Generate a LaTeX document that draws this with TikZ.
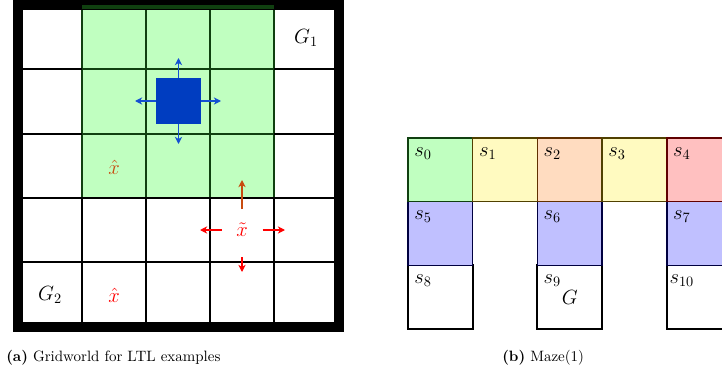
\documentclass[tikz,border=0pt]{standalone}
\usetikzlibrary{arrows.meta}
\definecolor{lgreen}{RGB}{192,255,192}
\definecolor{dgreen}{RGB}{16,64,16}
\definecolor{agentblue}{RGB}{0,61,192}
\definecolor{arrblue}{RGB}{20,80,210}
\definecolor{brownred}{RGB}{200,75,15}
\definecolor{lyellow}{RGB}{255,250,192}
\definecolor{dyellow}{RGB}{80,64,0}
\definecolor{lorange}{RGB}{255,220,192}
\definecolor{dorange}{RGB}{96,48,0}
\definecolor{lred}{RGB}{255,192,192}
\definecolor{dred}{RGB}{96,0,0}
\definecolor{lblue}{RGB}{192,192,255}
\definecolor{dblue}{RGB}{0,0,64}
\begin{document}
\begin{tikzpicture}[x=0.7pt,y=-0.7pt,
  gridline/.style={line width=1.4pt},
  mv/.style={line width=0.9pt,-{Stealth[length=5pt,width=5pt,inset=1.5pt]}},
  cell/.style={minimum width=45.29pt,minimum height=44.59pt,inner sep=0pt,outer sep=0pt,font=\Large},
  wcell/.style={cell,fill=white,draw=black,line width=1.4pt},
  ccell/.style={cell,line width=1pt},
  slabel/.style={anchor=base,inner sep=0pt,font=\Large},
  caplabel/.style={anchor=base west,inner sep=0pt,font=\fontsize{10.5}{12}\selectfont}]
\path[use as bounding box,fill=white] (0,0) rectangle (722,370);
\begin{scope}
\clip (0,0) rectangle (722,370);
% ---------- (a) gridworld ----------
\fill[white] (18,5) rectangle (338,327);
\fill[lgreen] (82,5) rectangle (274,198);
\foreach \x in {82,146,210,274} \draw[gridline] (\x,198) -- (\x,327);
\foreach \x in {82,146,210,274} \draw[gridline,dgreen] (\x,5) -- (\x,198);
\foreach \y in {69,134} {
  \draw[gridline] (18,\y) -- (82,\y);
  \draw[gridline,dgreen] (82,\y) -- (274,\y);
  \draw[gridline] (274,\y) -- (338,\y);
}
\foreach \y in {198,262} \draw[gridline] (18,\y) -- (338,\y);
\draw[line width=7pt] (17.5,5) rectangle (338.5,327);
\draw[dgreen,line width=2.8pt] (82,7) -- (274,7);

\node[fill=agentblue,minimum size=31.5pt,inner sep=0pt,outer sep=0pt] (agent) at (178.5,101) {};
\coordinate (aup) at (178.5,58);
\coordinate (adown) at (178.5,144);
\coordinate (aleft) at (135,101);
\coordinate (aright) at (221,101);
\draw[mv,arrblue] (agent.north) -- (aup);
\draw[mv,arrblue] (agent.south) -- (adown);
\draw[mv,arrblue] (agent.west) -- (aleft);
\draw[mv,arrblue] (agent.east) -- (aright);

\node[red,font=\Large,minimum width=28.7pt,minimum height=33.6pt,inner sep=0pt,outer sep=0pt] (xt) at (242,230) {$\tilde{x}$};
\coordinate (xup) at (242,180);
\coordinate (xdown) at (242,272);
\coordinate (xleft) at (200,230);
\coordinate (xright) at (285,230);
\draw[mv,brownred,shorten <=-2.1pt] (xt.north) -- (xup);
\draw[mv,red,shorten <=2.1pt] (xt.south) -- (xdown);
\draw[mv,red] (xt.west) -- (xleft);
\draw[mv,red] (xt.east) -- (xright);

\node[brownred,font=\Large] (xh1) at (114,167) {$\hat{x}$};
\node[red,font=\Large] (xh2) at (114,295) {$\hat{x}$};
\node[font=\Large] (g1) at (306,38) {$G_1$};
\node[font=\Large] (g2) at (50,295) {$G_2$};

% ---------- (b) maze ----------
\node[wcell] (s8) at (440.35,297.25) {};
\node[wcell] (s9) at (569.75,297.25) {$G$};
\node[wcell] (s10) at (699.15,297.25) {};
\node[ccell,fill=lblue,draw=dblue] (s5) at (440.35,233.55) {};
\node[ccell,fill=lblue,draw=dblue] (s6) at (569.75,233.55) {};
\node[ccell,fill=lblue,draw=dblue] (s7) at (699.15,233.55) {};
\node[ccell,fill=lgreen,draw=dgreen] (s0) at (440.35,169.85) {};
\node[ccell,fill=lyellow,draw=dyellow] (s1) at (505.05,169.85) {};
\node[ccell,fill=lorange,draw=dorange] (s2) at (569.75,169.85) {};
\node[ccell,fill=lyellow,draw=dyellow] (s3) at (634.45,169.85) {};
\node[ccell,fill=lred,draw=dred] (s4) at (699.15,169.85) {};
\foreach \n/\t in {s0/0,s1/1,s2/2,s3/3,s4/4,s5/5,s6/6,s7/7,s8/8,s9/9,s10/10}
  \node[slabel] (l\n) at ([xshift=10.5pt,yshift=-12.6pt]\n.north west) {$s_{\t}$};
\end{scope}
% ---------- captions ----------
\node[caplabel] (capa) at (6,361) {\textbf{(a)} Gridworld for LTL examples};
\node[caplabel] (capb) at (502,361) {\textbf{(b)} Maze(1)};
\end{tikzpicture}
\end{document}
